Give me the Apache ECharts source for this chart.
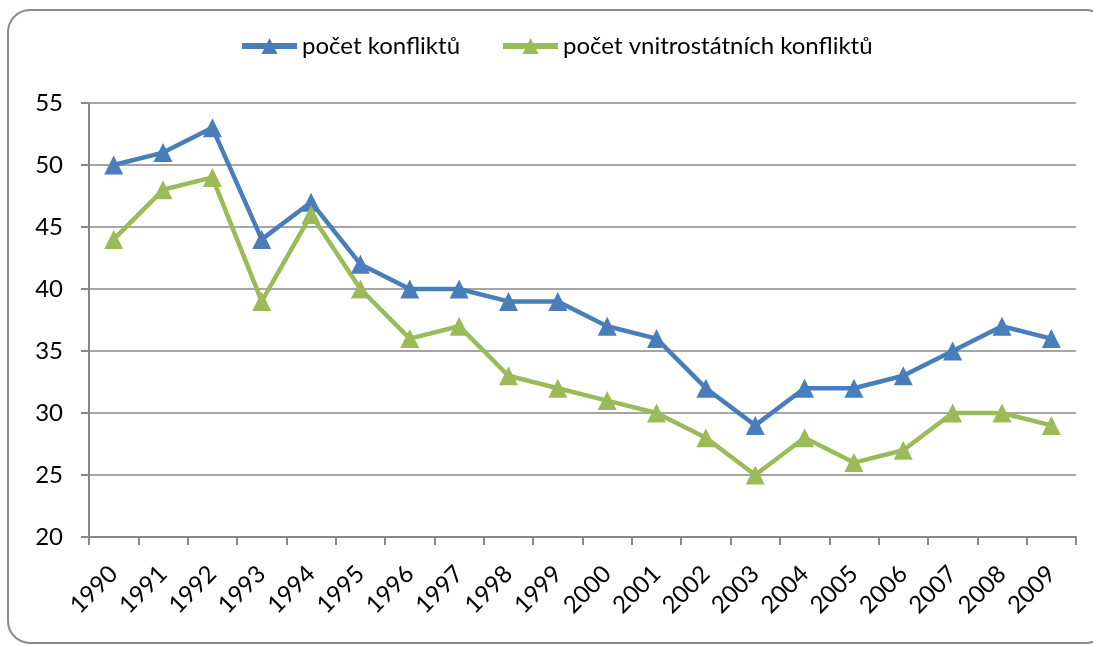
<!DOCTYPE html>
<html>
<head>
<meta charset="utf-8">
<script src="https://cdn.jsdelivr.net/npm/echarts@6/dist/echarts.min.js"></script>
<style>
  html, body { margin: 0; padding: 0; background: #fff; }
  #chart { width: 1093px; height: 646px; }
</style>
</head>
<body>
<div id="chart"></div>
<script>
// roky
var years = ['1990', '1991', '1992', '1993', '1994', '1995', '1996', '1997', '1998', '1999',
  '2000', '2001', '2002', '2003', '2004', '2005', '2006', '2007', '2008', '2009']
// počet konfliktů
var conflicts = [50, 51, 53, 44, 47, 42, 40, 40, 39, 39, 37, 36, 32, 29, 32, 32, 33, 35, 37, 36]
// počet vnitrostátních konfliktů
var internalConflicts = [44, 48, 49, 39, 46, 40, 36, 37, 33, 32, 31, 30, 28, 25, 28, 26, 27, 30, 30, 29]
var seriesNames = ['počet konfliktů', 'počet vnitrostátních konfliktů']

var fontFamily = 'Lato, "Open Sans", sans-serif'
var myChart = echarts.init(document.getElementById('chart'))

function lineSeries (name, data, color) {
  return {
    name: name,
    type: 'line',
    data: data,
    symbol: 'triangle',
    symbolSize: 19,
    lineStyle: { color: color, width: 4.5 },
    itemStyle: { color: color },
    animation: false
  }
}

var option = {
  backgroundColor: '#fff',
  graphic: [{
    type: 'rect',
    shape: { x: 8, y: 10, width: 1100, height: 633, r: 22 },
    style: { fill: 'none', stroke: '#8a8a8a', lineWidth: 2 },
    silent: true
  }],
  legend: {
    top: 29,
    left: 234,
    itemWidth: 55,
    itemHeight: 20,
    itemGap: 40,
    data: seriesNames,
    lineStyle: { width: 6 },
    textStyle: { fontFamily: fontFamily, fontSize: 24, color: '#000' }
  },
  grid: { left: 89, right: 17, top: 103, bottom: 109, containLabel: false },
  xAxis: {
    type: 'category',
    data: years,
    boundaryGap: true,
    axisLine: { lineStyle: { color: '#888', width: 2 } },
    axisTick: { show: true, length: 8, lineStyle: { color: '#888', width: 2 } },
    axisLabel: {
      rotate: 45,
      margin: 33,
      interval: 0,
      fontFamily: fontFamily,
      fontSize: 24,
      color: '#000'
    }
  },
  yAxis: {
    type: 'value',
    min: 20,
    max: 55,
    interval: 5,
    axisLine: { show: true, lineStyle: { color: '#888', width: 2 } },
    axisTick: { show: true, length: 8, lineStyle: { color: '#888', width: 2 } },
    splitLine: { lineStyle: { color: '#888', width: 1.5 } },
    axisLabel: { margin: 26, fontFamily: fontFamily, fontSize: 24, color: '#000' }
  },
  series: [
    lineSeries(seriesNames[0], conflicts, '#4a7ebb'),
    lineSeries(seriesNames[1], internalConflicts, '#9bbb59')
  ]
}
myChart.setOption(option, true)
</script>
</body>
</html>
